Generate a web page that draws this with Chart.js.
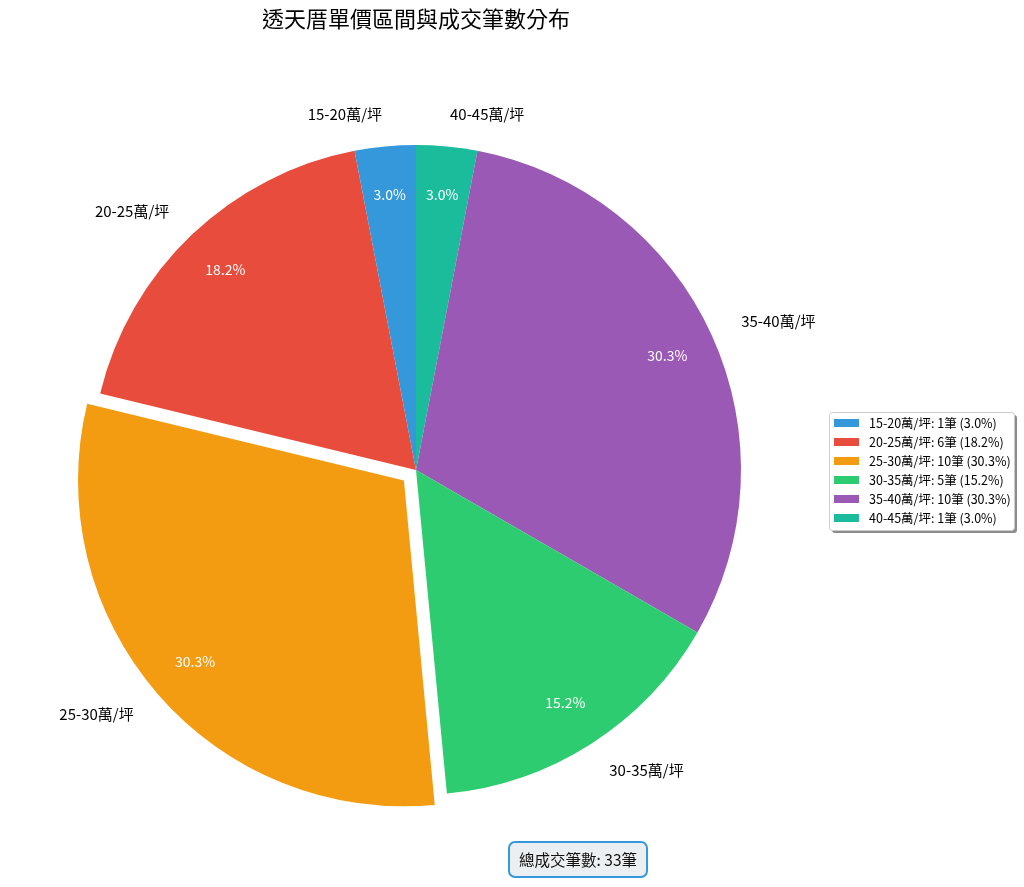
<!DOCTYPE html>
<html>
<head>
<meta charset="utf-8">
<script src="https://cdn.jsdelivr.net/npm/chart.js@4"></script>
<style>
  html, body { margin: 0; padding: 0; background: #fff; }
  #wrap { width: 1024px; height: 887px; position: relative; }
</style>
</head>
<body>
<div id="wrap"><canvas id="chartPie"></canvas></div>
<script>
// data
var categories = ['15-20萬/坪', '20-25萬/坪', '25-30萬/坪', '30-35萬/坪', '35-40萬/坪', '40-45萬/坪'];
var counts = [1, 6, 10, 5, 10, 1];
var sliceColors = ['#3498db', '#e74c3c', '#f39c12', '#2ecc71', '#9b59b6', '#1abc9c'];
// chart.js moves an arc by offset/4 px, so 64 -> 16px pull-out
var explode = [0, 0, 64, 0, 0, 0];

var FONT = '"Noto Sans CJK TC", "Noto Sans", sans-serif';
var total = counts.reduce(function (a, b) { return a + b; }, 0);

// matplotlib went counter-clockwise, chart.js goes clockwise -> reverse order
var rev = function (arr) { return arr.slice().reverse(); };

var extras = {
	id: 'extras',
	afterDatasetsDraw: function (chart) {
		var ctx = chart.ctx;
		var meta = chart.getDatasetMeta(0);
		var ds = chart.data.datasets[0];
		ctx.save();
		ctx.textBaseline = 'middle';
		meta.data.forEach(function (arc, i) {
			var p = arc.getProps(['x', 'y', 'startAngle', 'endAngle', 'outerRadius'], true);
			var mid = (p.startAngle + p.endAngle) / 2;
			var off = (ds.offset[i] || 0) / 4;
			var c = Math.cos(mid), s = Math.sin(mid);
			var pct = (ds.data[i] / total * 100).toFixed(1) + '%';

			// percentage inside
			var rp = off + p.outerRadius * 0.85;
			ctx.font = '14px ' + FONT;
			ctx.fillStyle = '#ffffff';
			ctx.textAlign = 'center';
			ctx.fillText(pct, p.x + c * rp, p.y + s * rp);

			// category label outside
			var rl = off + p.outerRadius * 1.1;
			ctx.font = '15px ' + FONT;
			ctx.fillStyle = '#000000';
			ctx.textAlign = c > 0 ? 'left' : 'right';
			ctx.fillText(chart.data.labels[i], p.x + c * rl, p.y + s * rl);
		});
		ctx.restore();
	},
	afterDraw: function (chart) {
		var ctx = chart.ctx;
		ctx.save();

		// title
		ctx.font = '22px ' + FONT;
		ctx.fillStyle = '#000000';
		ctx.textAlign = 'center';
		ctx.textBaseline = 'middle';
		ctx.fillText('透天厝單價區間與成交筆數分布', 416, 19);

		// legend
		var lx = 829, ly = 412, lw = 185, lh = 118;
		ctx.fillStyle = 'rgba(0,0,0,0.45)';
		ctx.beginPath();
		ctx.roundRect(lx + 3, ly + 3, lw, lh, 3);
		ctx.fill();
		ctx.fillStyle = '#ffffff';
		ctx.strokeStyle = '#cccccc';
		ctx.lineWidth = 1;
		ctx.beginPath();
		ctx.roundRect(lx + 0.5, ly + 0.5, lw, lh, 3);
		ctx.fill();
		ctx.stroke();

		ctx.font = '12.5px ' + FONT;
		ctx.textAlign = 'left';
		categories.forEach(function (cat, i) {
			var yc = 423 + i * 19;
			ctx.fillStyle = sliceColors[i];
			ctx.fillRect(834, yc - 4, 25, 8);
			ctx.fillStyle = '#000000';
			var pct = (counts[i] / total * 100).toFixed(1);
			ctx.fillText(cat + ': ' + counts[i] + '筆 (' + pct + '%)', 869, yc);
		});

		// total box
		ctx.fillStyle = '#eceff1';
		ctx.strokeStyle = '#3498db';
		ctx.lineWidth = 2;
		ctx.beginPath();
		ctx.roundRect(509, 842, 138, 35, 6);
		ctx.fill();
		ctx.stroke();
		ctx.font = '15.5px ' + FONT;
		ctx.fillStyle = '#111111';
		ctx.textAlign = 'center';
		ctx.fillText('總成交筆數: ' + total + '筆', 578, 860);

		ctx.restore();
	}
};

var ctx = document.getElementById('chartPie').getContext('2d');
var chart = new Chart(ctx, {
	type: 'pie',
	data: {
		labels: rev(categories),
		datasets: [{
			data: rev(counts),
			backgroundColor: rev(sliceColors),
			borderWidth: 0,
			offset: rev(explode),
			radius: 325
		}]
	},
	options: {
		responsive: true,
		maintainAspectRatio: false,
		animation: false,
		events: [],
		rotation: 0,
		layout: { padding: { left: 0, right: 192, top: 53, bottom: 0 } },
		plugins: {
			legend: { display: false },
			tooltip: { enabled: false }
		}
	},
	plugins: [extras]
});
</script>
</body>
</html>
